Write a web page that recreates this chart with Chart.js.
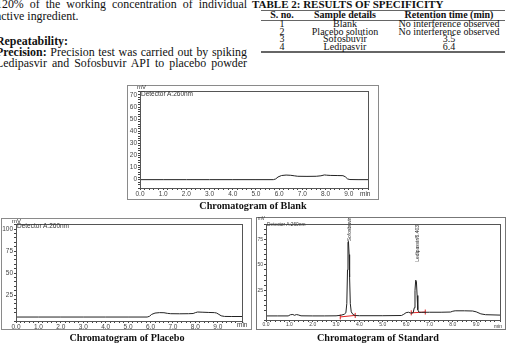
<!DOCTYPE html>
<html>
<head>
<meta charset="utf-8">
<script src="https://cdn.jsdelivr.net/npm/chart.js@4.4.1/dist/chart.umd.min.js"></script>
<style>
html,body{margin:0;padding:0;background:#fff;width:511px;height:347px;overflow:hidden;}
body{position:relative;font-family:"Liberation Serif","Times New Roman",serif;color:#111;}
.abs{position:absolute;white-space:nowrap;}
.pl{position:absolute;left:-4px;width:251px;font-size:11.9px;line-height:12px;height:12px;text-align:justify;text-align-last:justify;}
.pl.nj{text-align:left;text-align-last:left;}
.rule{position:absolute;left:261px;width:244px;background:#666;}
.cell{position:absolute;width:130px;text-align:center;font-size:10px;line-height:8px;white-space:nowrap;}
.frame{position:absolute;border:1px solid #8a8a8a;box-sizing:border-box;pointer-events:none;}
canvas{position:absolute;}
.sm{position:absolute;font-family:"Liberation Sans",Arial,sans-serif;color:#333;white-space:nowrap;line-height:1;}
.title{position:absolute;font-weight:bold;font-size:10.2px;text-align:center;width:200px;line-height:12px;}
</style>
</head>
<body>
<!-- left column text -->
<div class="pl" style="top:-2px">120% of the working concentration of individual</div>
<div class="pl nj" style="top:9.7px">active ingredient.</div>
<div class="pl nj" style="top:34.7px"><b>Repeatability:</b></div>
<div class="pl" style="top:46.3px"><b>Precision:</b> Precision test was carried out by spiking</div>
<div class="pl" style="top:57.3px">Ledipasvir and Sofosbuvir API to placebo powder</div>

<!-- table -->
<div class="abs" style="left:252px;top:-1.5px;font-size:11px;font-weight:bold;line-height:11px;">TABLE 2: RESULTS OF SPECIFICITY</div>
<div class="rule" style="top:9.5px;height:1.5px"></div>
<div class="rule" style="top:19.5px;height:1px"></div>
<div class="rule" style="top:51px;height:1.5px"></div>
<div id="tbl"></div>

<!-- chromatograms -->
<canvas id="cBlank" width="252" height="115" style="left:127px;top:85px"></canvas>
<div class="frame" style="left:127px;top:85px;width:252px;height:115px"></div>
<div class="sm" style="left:137px;top:84px;font-size:6px">mV</div>
<div class="sm" style="left:141px;top:91px;font-size:6.5px">Detector A:260nm</div>
<div class="sm" style="left:360px;top:191px;font-size:6.5px">min</div>
<div class="title" style="left:153px;top:200px">Chromatogram of Blank</div>

<canvas id="cPlacebo" width="251" height="112" style="left:1px;top:218px"></canvas>
<div class="frame" style="left:1px;top:218px;width:251px;height:112px"></div>
<div class="sm" style="left:12px;top:218px;font-size:6px">mV</div>
<div class="sm" style="left:17px;top:223px;font-size:6.5px">Detector A:260nm</div>
<div class="sm" style="left:237px;top:322px;font-size:6.5px">min</div>
<div class="title" style="left:27px;top:332px">Chromatogram of Placebo</div>

<canvas id="cStd" width="250" height="113" style="left:256px;top:217px"></canvas>
<div class="frame" style="left:256px;top:217px;width:250px;height:113px;border-color:#777"></div>
<div class="sm" style="left:258px;top:217px;font-size:4.5px">mV</div>
<div class="sm" style="left:267px;top:223px;font-size:4.8px">Detector A:260nm</div>
<div class="sm" style="left:494px;top:323.5px;font-size:5px">min</div>
<div class="title" style="left:278px;top:332px">Chromatogram of Standard</div>

<script>
// ---- table data ----
const tableHeader = ["S. no.", "Sample details", "Retention time (min)"];
const tableSNo = ["1", "2", "3", "4"];
const tableSample = ["Blank", "Placebo solution", "Sofosbuvir", "Ledipasvir"];
const tableRT = ["No interference observed", "No interference observed", "3.5", "6.4"];

// ---- chromatogram data (time in min, signal in mV) ----
const blankTime   = [0.0, 1.0, 2.0, 3.0, 4.0, 5.0, 5.75, 5.85, 5.95, 6.1, 6.3, 6.5, 6.65, 6.8, 7.2, 7.6, 7.8, 7.95, 8.05, 8.2, 8.5, 8.75, 8.85, 8.95, 9.05, 9.4, 9.83];
const blankSignal = [0, 0, 0, 0, 0, 0, 0, 0.6, 2.2, 3.4, 3.8, 3.6, 3.2, 2.8, 2.7, 2.8, 3.2, 3.9, 3.7, 3.5, 3.4, 3.3, 2.4, 0.6, 0.1, 0, 0];

const placeboTime   = [0, 1, 2, 3, 4, 5, 5.85, 5.95, 6.05, 6.2, 6.4, 6.6, 6.75, 6.9, 7.3, 7.7, 7.9, 8.0, 8.1, 8.3, 8.6, 8.85, 8.95, 9.05, 9.15, 9.3, 9.6, 10.08];
const placeboSignal = [0, 0, 0, 0, 0, 0, 0, 0.8, 3.0, 4.5, 5.0, 4.9, 4.2, 3.8, 3.7, 3.8, 4.0, 5.0, 5.7, 5.5, 5.2, 5.0, 4.5, 3.0, 1.4, 0.7, 0.6, 0.6];

const stdTime   = [0, 0.5, 0.95, 1.05, 1.15, 1.22, 1.3, 1.38, 1.5, 2.0, 2.5, 3.0, 3.2, 3.35, 3.42, 3.46, 3.49, 3.51, 3.53, 3.56, 3.58, 3.61, 3.65, 3.72, 3.82, 4.0, 5.0, 5.8, 5.9, 6.0, 6.1, 6.2, 6.3, 6.35, 6.38, 6.41, 6.44, 6.47, 6.5, 6.55, 6.65, 7.0, 7.5, 7.9, 8.0, 8.1, 8.5, 8.85, 9.0, 9.2, 9.4, 10.02];
const stdSignal = [0, 0, 0, 1.2, 1.4, 0.6, 1.3, 1.0, 0.1, 0, 0, 0.1, 0.6, 1.6, 3, 12, 45, 72, 73, 60, 38, 12, 4, 1.5, 0.4, 0.2, 0.2, 0.4, 1.6, 3.2, 3.6, 2.8, 3.0, 8, 25, 35, 34, 20, 6, 3.6, 3.5, 3.6, 3.6, 3.8, 4.6, 5.0, 5.0, 4.8, 4.0, 2.0, 1.2, 0.8];

// integration baseline marks (red)
const sofIntTime = [3.18, 3.82];
const sofIntSignal = [-1.0, 0.5];
const ledIntTime = [6.22, 6.82];
const ledIntSignal = [3.0, 3.8];

// peak labels
const peakNames = ["Sofosbuvir/3.502", "Ledipasvir/6.403"];
const peakTimes = [3.52, 6.42];
const peakHeights = [73, 35];

// ---- table build ----
(function(){
  const tbl = document.getElementById('tbl');
  const colCenters = [282, 345, 449];
  function cell(txt, col, yc, bold){
    const d = document.createElement('div');
    d.className = 'cell';
    d.style.left = (colCenters[col] - 65) + 'px';
    d.style.top = (yc - 4) + 'px';
    if (bold) d.style.fontWeight = 'bold';
    d.textContent = txt;
    tbl.appendChild(d);
  }
  tableHeader.forEach((h,i)=>cell(h, i, 15, true));
  const rowY = [24.3, 31.8, 39.3, 46.7];
  tableSNo.forEach((s,i)=>{
    cell(s, 0, rowY[i]); cell(tableSample[i], 1, rowY[i]); cell(tableRT[i], 2, rowY[i]);
  });
})();

// ---- charts ----
function pts(t, s){ return t.map((x,i)=>({x:x, y:s[i]})); }

const boxPlugin = {
  id:'box',
  afterDraw(chart){
    const {ctx, chartArea:a} = chart;
    ctx.save();
    ctx.strokeStyle = '#555';
    ctx.lineWidth = 1;
    ctx.strokeRect(Math.round(a.left)+0.5, Math.round(a.top)+0.5, Math.round(a.right-a.left), Math.round(a.bottom-a.top));
    ctx.restore();
  }
};

const peakLabelPlugin = {
  id:'peakLabels',
  afterDatasetsDraw(chart, args, opts){
    if (!opts || !opts.names) return;
    const {ctx, chartArea:a, scales} = chart;
    ctx.save();
    ctx.font = '5px "Liberation Sans", Arial, sans-serif';
    ctx.fillStyle = '#222';
    ctx.textBaseline = 'middle';
    ctx.textAlign = 'left';
    opts.names.forEach((name,i)=>{
      const x = scales.x.getPixelForValue(opts.times[i]) + 1.5;
      const yPeak = scales.y.getPixelForValue(opts.heights[i]);
      const w = ctx.measureText(name).width;
      const bottom = Math.min(yPeak, a.top + w + 1);
      ctx.save();
      ctx.translate(x, bottom);
      ctx.rotate(-Math.PI/2);
      ctx.fillText(name, 0, 0);
      ctx.restore();
    });
    ctx.restore();
  }
};

function chromChart(id, datasets, o){
  return new Chart(document.getElementById(id), {
    type:'line',
    data:{datasets:datasets},
    options:{
      responsive:false, animation:false, devicePixelRatio:1,
      layout:{padding:{top:o.padTop, right:o.padRight, left:0, bottom:0}},
      plugins:{legend:{display:false}, tooltip:{enabled:false}, peakLabels:o.peaks || {}},
      elements:{point:{radius:0}, line:{tension:0, borderWidth:1}},
      scales:{
        x:{type:'linear', min:0, max:o.xMax,
           afterFit(s){ s.height = o.xH; },
           ticks:{stepSize:0.2, autoSkip:false, maxRotation:0, minRotation:0, padding:0,
                  font:{family:'"Liberation Sans", Arial, sans-serif', size:o.fs}, color:'#444',
                  callback(v){ const r = Math.round(v); return (Math.abs(v-r) < 1e-6 && r < 10) ? r.toFixed(1) : ''; }},
           grid:{drawOnChartArea:false, drawTicks:true, tickLength:2, color:'#444'},
           border:{color:'#555'}},
        y:{type:'linear', min:o.yMin, max:o.yMax,
           afterFit(s){ s.width = o.yW; },
           ticks:{stepSize:o.yStep, autoSkip:false, padding:1,
                  font:{family:'"Liberation Sans", Arial, sans-serif', size:o.fs}, color:'#444',
                  callback(v){ const r = Math.round(v); return (Math.abs(v-r) < 1e-6 && r % o.yMajor === 0) ? String(r) : ''; }},
           grid:{drawOnChartArea:false, drawTicks:true, tickLength:2, color:'#444'},
           border:{color:'#555'}}
      }
    },
    plugins:[boxPlugin, peakLabelPlugin]
  });
}

const traceStyle = {borderColor:'#222', borderWidth:1, pointRadius:0, fill:false};
const redStyle = {borderColor:'#e02020', borderWidth:1, pointRadius:2.5, pointStyle:'line', rotation:90, pointBorderColor:'#e02020', pointBorderWidth:1, fill:false};

chromChart('cBlank', [Object.assign({data:pts(blankTime, blankSignal)}, traceStyle)],
  {padTop:6, padRight:11, yW:13, xH:12, xMax:9.83, yMin:-6.9, yMax:73.3, yStep:2, yMajor:10, fs:6.5});

chromChart('cPlacebo', [Object.assign({data:pts(placeboTime, placeboSignal)}, traceStyle)],
  {padTop:6, padRight:10, yW:15, xH:9, xMax:10.08, yMin:-4.5, yMax:105.7, yStep:5, yMajor:25, fs:6.5});

chromChart('cStd', [
    Object.assign({data:pts(stdTime, stdSignal)}, traceStyle),
    Object.assign({data:pts(sofIntTime, sofIntSignal)}, redStyle),
    Object.assign({data:pts(ledIntTime, ledIntSignal)}, redStyle)
  ],
  {padTop:7, padRight:6, yW:10, xH:10, xMax:10.02, yMin:-4, yMax:90, yStep:5, yMajor:25, fs:5,
   peaks:{names:peakNames, times:peakTimes, heights:peakHeights}});
</script>
</body>
</html>
